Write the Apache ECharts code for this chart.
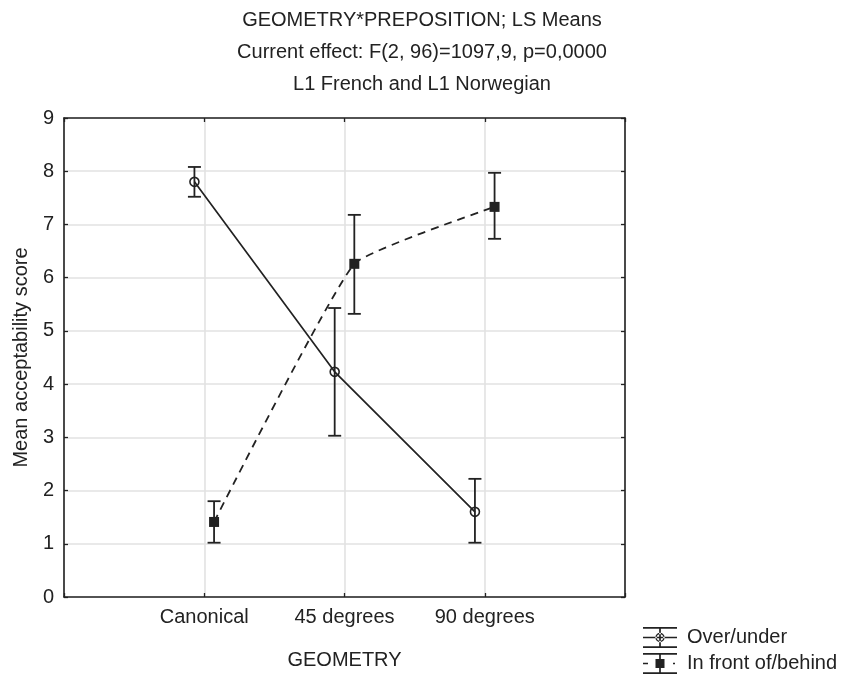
<!DOCTYPE html>
<html>
<head>
<meta charset="utf-8">
<script src="https://cdn.jsdelivr.net/npm/echarts@6/dist/echarts.min.js"></script>
<style>
  html, body { margin: 0; padding: 0; background: #fff; }
  #main { width: 842px; height: 677px; }
</style>
</head>
<body>
<div id="main"></div>
<script>
// categories on the GEOMETRY axis
const categories = ['Canonical', '45 degrees', '90 degrees'];
const yTicks = [0, 1, 2, 3, 4, 5, 6, 7, 8, 9];

// Over/under: LS means and error-bar limits
const overMean = [7.80, 4.23, 1.60];
const overLow = [7.52, 3.03, 1.02];
const overHigh = [8.08, 5.43, 2.22];

// In front of/behind
const frontMean = [1.41, 6.26, 7.33];
const frontLow = [1.02, 5.32, 6.73];
const frontHigh = [1.80, 7.18, 7.97];

const FONT = 'Liberation Sans, Arial, sans-serif';
const INK = '#222';
const FS = 20;
const SHIFT = 0.07; // the two groups are nudged apart on x

function points(means, dx) {
  return means.map((v, i) => [i + 1 + dx, v]);
}
function bars(lo, hi, dx) {
  return lo.map((v, i) => [i + 1 + dx, v, hi[i]]);
}

function renderBar(params, api) {
  const x = api.value(0);
  const top = api.coord([x, api.value(2)]);
  const bot = api.coord([x, api.value(1)]);
  const w = 6.5;
  const st = { stroke: INK, lineWidth: 1.8 };
  return {
    type: 'group',
    children: [
      { type: 'line', shape: { x1: top[0], y1: top[1], x2: bot[0], y2: bot[1] }, style: st },
      { type: 'line', shape: { x1: top[0] - w, y1: top[1], x2: top[0] + w, y2: top[1] }, style: st },
      { type: 'line', shape: { x1: bot[0] - w, y1: bot[1], x2: bot[0] + w, y2: bot[1] }, style: st }
    ]
  };
}

// legend glyphs: error bar with marker, drawn in a 34x21 box
const capsAndStem = 'M0 0h34v1.7h-34Z M0 19.3h34v1.7h-34Z M16.15 0h1.7v21h-1.7Z ';
const overIcon = 'path://' + capsAndStem +
  'M0 9.65h34v1.7h-34Z M12.3 10.5a4.7 4.7 0 1 0 9.4 0a4.7 4.7 0 1 0 -9.4 0Z ' +
  'M13.8 10.5a3.2 3.2 0 1 1 6.4 0a3.2 3.2 0 1 1 -6.4 0Z';
const frontIcon = 'path://' + capsAndStem +
  'M0 9.65h5v1.7h-5Z M30 9.65h2v1.7h-2Z M12.5 6h9v9h-9Z';

const chart = echarts.init(document.getElementById('main'));

const titleStyle = { fontFamily: FONT, fontSize: FS, lineHeight: 20, fontWeight: 'normal', color: INK };

chart.setOption({
  animation: false,
  textStyle: { fontFamily: FONT },
  title: [
    { text: 'GEOMETRY*PREPOSITION; LS Means', left: 422, top: 10, padding: 0, textAlign: 'center', textStyle: titleStyle },
    { text: 'Current effect: F(2, 96)=1097,9, p=0,0000', left: 422, top: 42, padding: 0, textAlign: 'center', textStyle: titleStyle },
    { text: 'L1 French and L1 Norwegian', left: 422, top: 74, padding: 0, textAlign: 'center', textStyle: titleStyle }
  ],
  legend: {
    orient: 'vertical',
    left: 643,
    top: 627,
    padding: 0,
    itemWidth: 34,
    itemHeight: 21,
    itemGap: 5,
    textStyle: { fontFamily: FONT, fontSize: FS, color: INK, padding: [0, 0, 0, 5] },
    itemStyle: { color: INK, borderWidth: 0 },
    data: [
      { name: 'Over/under', icon: overIcon },
      { name: 'In front of/behind', icon: frontIcon }
    ]
  },
  grid: { left: 64, right: 217, top: 118, bottom: 80 },
  xAxis: [
    {
      type: 'value',
      min: 0,
      max: 4,
      interval: 1,
      name: 'GEOMETRY',
      nameLocation: 'middle',
      nameGap: 53,
      nameTextStyle: { fontFamily: FONT, fontSize: FS, color: INK },
      axisLine: { show: true, onZero: false, lineStyle: { color: INK, width: 1.6 } },
      axisTick: { show: true, inside: true, length: 4, lineStyle: { color: INK, width: 1.3 } },
      axisLabel: {
        margin: 10,
        fontSize: FS,
        color: INK,
        fontFamily: FONT,
        formatter: v => categories[v - 1] || ''
      },
      splitLine: { show: true, lineStyle: { color: '#e2e2e2', width: 1.6 } }
    },
    {
      type: 'value',
      position: 'top',
      min: 0,
      max: 4,
      interval: 1,
      axisLine: { show: true, onZero: false, lineStyle: { color: INK, width: 1.6 } },
      axisTick: { show: true, inside: true, length: 4, lineStyle: { color: INK, width: 1.3 } },
      axisLabel: { show: false },
      splitLine: { show: false }
    }
  ],
  yAxis: [
    {
      type: 'value',
      min: yTicks[0],
      max: yTicks[yTicks.length - 1],
      interval: 1,
      name: 'Mean acceptability score',
      nameLocation: 'middle',
      nameGap: 32,
      nameTextStyle: { fontFamily: FONT, fontSize: FS, color: INK },
      axisLine: { show: true, onZero: false, lineStyle: { color: INK, width: 1.6 } },
      axisTick: { show: true, inside: true, length: 4, lineStyle: { color: INK, width: 1.3 } },
      axisLabel: { margin: 10, fontSize: FS, color: INK, fontFamily: FONT },
      splitLine: { show: true, lineStyle: { color: '#e2e2e2', width: 1.6 } }
    },
    {
      type: 'value',
      position: 'right',
      min: yTicks[0],
      max: yTicks[yTicks.length - 1],
      interval: 1,
      axisLine: { show: true, onZero: false, lineStyle: { color: INK, width: 1.6 } },
      axisTick: { show: true, inside: true, length: 4, lineStyle: { color: INK, width: 1.3 } },
      axisLabel: { show: false },
      splitLine: { show: false }
    }
  ],
  series: [
    {
      name: 'Over/under bars',
      type: 'custom',
      renderItem: renderBar,
      encode: { x: 0, y: [1, 2] },
      data: bars(overLow, overHigh, -SHIFT),
      z: 3
    },
    {
      name: 'In front of/behind bars',
      type: 'custom',
      renderItem: renderBar,
      encode: { x: 0, y: [1, 2] },
      data: bars(frontLow, frontHigh, SHIFT),
      z: 3
    },
    {
      name: 'Over/under',
      type: 'line',
      data: points(overMean, -SHIFT),
      symbol: 'circle',
      symbolSize: 9,
      itemStyle: { color: 'rgba(0,0,0,0)', borderColor: INK, borderWidth: 1.6 },
      lineStyle: { color: INK, width: 1.7, type: 'solid' },
      z: 4
    },
    {
      name: 'In front of/behind',
      type: 'line',
      data: points(frontMean, SHIFT),
      smooth: 0.12,
      symbol: 'rect',
      symbolSize: 10,
      itemStyle: { color: INK, borderWidth: 0 },
      lineStyle: { color: INK, width: 1.8, type: [8, 6] },
      z: 4
    }
  ]
});
</script>
</body>
</html>
